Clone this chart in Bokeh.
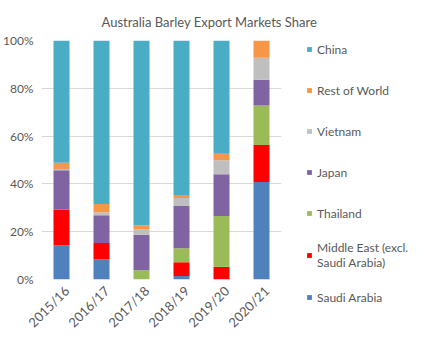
from bokeh.plotting import figure
from bokeh.models import (Range1d, Legend, LegendItem, PrintfTickFormatter,
                          FixedTicker, LinearAxis)
from bokeh.embed import file_html
from bokeh.resources import INLINE
import math

years = ["2015/16", "2016/17", "2017/18", "2018/19", "2019/20", "2020/21"]
saudi_arabia = [14.2, 8.4, 0.0, 1.5, 0.0, 40.8]
middle_east = [15.0, 6.9, 0.0, 5.7, 5.3, 15.5]
thailand = [0.0, 0.0, 3.9, 5.9, 21.3, 16.5]
japan = [16.5, 11.6, 14.8, 17.7, 17.4, 10.8]
vietnam = [0.5, 1.2, 2.2, 3.3, 5.9, 9.2]
rest_of_world = [2.7, 3.5, 1.8, 1.3, 2.7, 7.2]
china = [51.1, 68.4, 77.3, 64.6, 47.4, 0.0]

series = ["Saudi Arabia", "Middle East (excl.\nSaudi Arabia)", "Thailand", "Japan", "Vietnam", "Rest of World", "China"]
keys = ["saudi", "me", "thailand", "japan", "vietnam", "row", "china"]
colors = ["#4F81BD", "#FF0000", "#9BBB59", "#8064A2", "#BFBFBF", "#F79646", "#4BACC6"]

n = len(years)
pos = [i + 0.5 for i in range(n)]  # category slot centres
data = dict(x=pos, years=years, saudi=saudi_arabia, me=middle_east, thailand=thailand,
            japan=japan, vietnam=vietnam, row=rest_of_world, china=china)

FONT = "Lato"
GREY = "#595959"

p = figure(x_range=Range1d(0, n), y_range=Range1d(0, 100),
           frame_width=240, frame_height=239, output_backend="svg", toolbar_location=None,
           min_border_left=39, min_border_right=141, min_border_top=40, min_border_bottom=63,
           title="Australia Barley Export Markets Share")
p.outline_line_color = None

renderers = p.vbar_stack(keys, x="x", width=0.4, color=colors, source=data, line_color=None)

p.title.text_font = FONT
p.title.text_font_size = "13px"
p.title.text_font_style = "normal"
p.title.text_color = GREY
p.title.align = "left"
p.title.offset = 60
p.title.standoff = 22

p.yaxis.ticker = FixedTicker(ticks=[0, 20, 40, 60, 80, 100])
p.yaxis.formatter = PrintfTickFormatter(format="%d%%")
p.yaxis.axis_line_color = None
p.yaxis.major_tick_line_color = None
p.yaxis.minor_tick_line_color = None
p.yaxis.major_label_standoff = 2
p.yaxis.major_label_text_font = FONT
p.yaxis.major_label_text_font_size = "12px"
p.yaxis.major_label_text_color = GREY

# category labels on a slightly shifted axis (Excel anchors rotated labels by their corner)
p.xaxis.visible = False
shift = 0.13
p.extra_x_ranges = {"labels": Range1d(-shift, n - shift)}
xax = LinearAxis(x_range_name="labels", ticker=FixedTicker(ticks=pos),
                 major_label_overrides={t: y for t, y in zip(pos, years)})
xax.axis_line_color = None
xax.major_tick_line_color = None
xax.minor_tick_line_color = None
xax.major_label_orientation = math.pi / 4
xax.major_label_standoff = 3
xax.major_label_text_font = FONT
xax.major_label_text_font_size = "13px"
xax.major_label_text_color = GREY
p.add_layout(xax, "below")

p.xgrid.grid_line_color = None
p.ygrid.grid_line_color = "#D9D9D9"
p.ygrid.grid_line_width = 1

items = [LegendItem(label=series[i], renderers=[renderers[i]]) for i in reversed(range(len(keys)))]
legend = Legend(items=items, location=(25, -32), orientation="vertical")
legend.label_text_font = FONT
legend.label_text_font_size = "12px"
legend.label_text_color = GREY
legend.glyph_width = 6
legend.glyph_height = 6
legend.label_height = 28
legend.label_standoff = 5
legend.spacing = 13
legend.padding = 0
legend.margin = 0
legend.border_line_color = None
legend.background_fill_alpha = 0
p.add_layout(legend, "right")

open("out.html", "w").write(file_html(p, INLINE))
